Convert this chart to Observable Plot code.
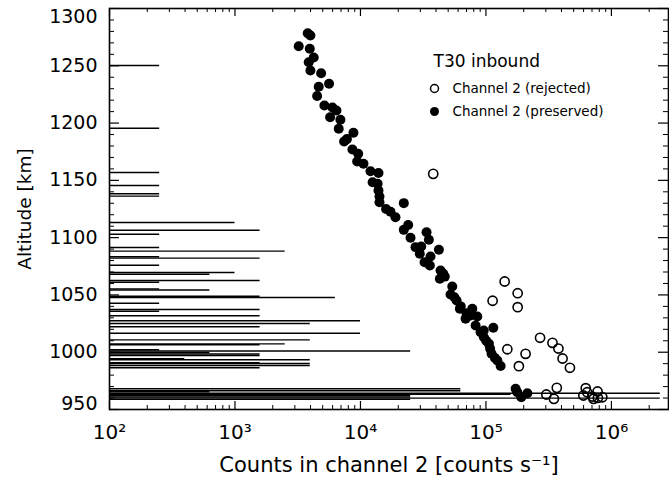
<!DOCTYPE html>
<html><head><meta charset="utf-8">
<script src="https://cdn.jsdelivr.net/npm/d3@7"></script>
<script src="https://cdn.jsdelivr.net/npm/@observablehq/plot@0.6"></script>
<style>
body{margin:0;background:#fff}
#chart{width:669px;height:477px}
svg text{font-family:"DejaVu Sans",sans-serif}
</style></head><body><div id="chart"></div>
<script>
// Horizontal bars: altitude (km) and count level reached (counts/s)
const lineAltitudes = [1250.2,1195.5,1156.9,1145.5,1138.3,1136.2,1113.2,1106.5,1103.0,1091.4,1088.2,1083.3,1082.1,1075.9,1069.6,1068.1,1062.6,1061.1,1055.3,1054.3,1048.9,1047.8,1042.8,1037.3,1035.8,1031.8,1027.4,1025.1,1022.2,1016.6,1010.8,1007.3,1006.5,1002.1,1001.1,999.8,998.4,997.1,994.3,993.4,990.8,990.2,988.4,986.4,968.1,966.3,965.5,964.2,963.3,962.2,960.9,959.9,958.8];
const lineCounts = [251,251,251,251,251,251,1000,1585,251,251,2512,251,1585,251,1000,631,1585,251,251,631,1585,6310,251,1585,251,1585,10000,3981,1585,10000,3981,2512,1585,251,25119,631,1585,1585,398,3981,1585,3981,3981,1585,63096,63096,631,2450000,158489,25119,25119,2450000,25119];

// Channel 2 (preserved)
const preservedCounts = [3800,3990,3220,3945,4240,3870,3990,4860,4650,5620,4515,5160,5980,6435,5730,6920,6710,8790,7410,8630,9590,9410,10570,12020,13920,12500,13700,13920,14180,14180,22150,17350,19010,22150,25060,33620,35080,27470,30500,29700,36160,42150,32420,35730,43480,45700,42920,53900,52240,58340,61960,77840,68830,75440,85310,82700,114500,90650,96300,105600,110900,123200,130900,172400,213800,191400,177800,7800,16000,24000,100500,108000,118000,96000,47000,56000,63000,70000];
const preservedAltitudes = [1278.4,1276.4,1267.1,1264.8,1257.2,1253.1,1245.9,1243.5,1231.7,1234.3,1223.6,1215.3,1213.6,1211,1205.1,1202.9,1195,1191.6,1183.9,1176.9,1173.2,1166.5,1164.5,1158,1156.4,1148.4,1147,1141.1,1135.9,1130.9,1130.1,1122.6,1117.8,1106.8,1099.9,1104.7,1098.1,1091.7,1092.3,1085.9,1083.5,1089.4,1078.6,1075.7,1071.3,1068.4,1064.1,1057.4,1050.4,1045.1,1037.9,1037.9,1029.2,1032,1031.2,1023.3,1021.3,1017.5,1013.1,1007.3,998.6,992.8,988,968.1,964.2,960.7,965.1,1186,1125,1111,1010,1003,995,1019,1066,1048,1040,1034];

// Channel 2 (rejected)
const rejectedCounts = [38000,141000,179000,113000,179000,270000,339000,378000,148000,207000,408000,183000,467000,367000,303000,348000,624000,598000,640000,707000,775000,780000,847000,720000];
const rejectedAltitudes = [1155.7,1061.7,1051.5,1044.9,1039.3,1012.6,1008.2,1003.2,1002.6,998.6,994.5,987.8,986.4,968.9,963.1,959.3,968.6,962.2,965.1,961.3,965.7,960.2,960.7,959.3];

const xTickValues = [1e2,1e3,1e4,1e5,1e6];
const xTickLabels = ["10²","10³","10⁴","10⁵","10⁶"];
const yTickValues = [950,1000,1050,1100,1150,1200,1250,1300];
const xDomain = [100, 2.85e6];
const yDomain = [950, 1300];
const legendTitle = "T30 inbound";
const seriesNames = ["Channel 2 (rejected)", "Channel 2 (preserved)"];
const xLabel = "Counts in channel 2 [counts s⁻¹]";
const yLabel = "Altitude [km]";

const lines = lineAltitudes.map((a,i)=>({alt:a, count:lineCounts[i]}));
const preserved = preservedCounts.map((c,i)=>({count:c, alt:preservedAltitudes[i]}));
const rejected = rejectedCounts.map((c,i)=>({count:c, alt:rejectedAltitudes[i]}));

const W = 669, H = 477, mL = 109, mR = 1, mT = 8, mB = 68;
const fw = W - mL - mR, fh = H - mT - mB;

const xMinor = [];
for (let k = 2; k <= 6; k++) for (let m = 2; m <= 9; m++) { const v = m * 10 ** k; if (v < xDomain[1]) xMinor.push(v); }
const yMinor = d3.range(960, 1300, 10).filter(v => v % 50 !== 0);

const plot = Plot.plot({
  width: W, height: H,
  marginLeft: mL, marginRight: mR, marginTop: mT, marginBottom: mB,
  x: {type: "log", domain: xDomain},
  y: {domain: yDomain},
  marks: [
    Plot.ruleY(lines, {y: "alt", x1: 100, x2: "count", stroke: "black", strokeWidth: 1.4, clip: true}),
    Plot.dot(rejected, {x: "count", y: "alt", r: 4.6, stroke: "black", strokeWidth: 1.6, fill: "none"}),
    Plot.dot(preserved, {x: "count", y: "alt", r: 5, fill: "black", stroke: "none"}),
    // inward ticks
    Plot.ruleX(xTickValues, {x: d => d, insetTop: fh - 8, stroke: "black", strokeWidth: 1.2}),
    Plot.ruleX(xTickValues, {x: d => d, insetBottom: fh - 8, stroke: "black", strokeWidth: 1.2}),
    Plot.ruleX(xMinor, {x: d => d, insetTop: fh - 4, stroke: "black", strokeWidth: 1}),
    Plot.ruleX(xMinor, {x: d => d, insetBottom: fh - 4, stroke: "black", strokeWidth: 1}),
    Plot.ruleY(yTickValues, {y: d => d, insetRight: fw - 10, stroke: "black", strokeWidth: 1.2}),
    Plot.ruleY(yTickValues, {y: d => d, insetLeft: fw - 10, stroke: "black", strokeWidth: 1.2}),
    Plot.ruleY(yMinor, {y: d => d, insetRight: fw - 5, stroke: "black", strokeWidth: 1}),
    Plot.ruleY(yMinor, {y: d => d, insetLeft: fw - 5, stroke: "black", strokeWidth: 1}),
    Plot.frame({stroke: "black", strokeWidth: 1.6}),
    // tick labels
    Plot.axisX(xTickValues, {tickSize: 0, tickPadding: 15, tickFormat: d => xTickLabels[xTickValues.indexOf(d)], fontSize: 20, label: null, fill: "black"}),
    Plot.axisY(yTickValues.slice(1, -1), {tickSize: 0, tickPadding: 12, tickFormat: d => String(d), fontSize: 19, label: null, fill: "black"}),
    Plot.axisY(yTickValues.slice(-1), {tickSize: 0, tickPadding: 12, tickFormat: d => String(d), fontSize: 19, label: null, fill: "black", dy: 8}),
    Plot.axisY(yTickValues.slice(0, 1), {tickSize: 0, tickPadding: 12, tickFormat: d => String(d), fontSize: 19, label: null, fill: "black", dy: -6}),
    // axis titles
    Plot.text([xLabel], {text: d => d, frameAnchor: "bottom", dy: 56, lineAnchor: "middle", fontSize: 21, fill: "black"}),
    Plot.text([yLabel], {text: d => d, frameAnchor: "left", dx: -84, rotate: -90, lineAnchor: "middle", textAnchor: "middle", fontSize: 18.5, fill: "black"}),
    // legend
    Plot.text([legendTitle], {text: d => d, frameAnchor: "top-left", dx: 324, dy: 53, textAnchor: "start", lineAnchor: "middle", fontSize: 17, fill: "black"}),
    Plot.dot([seriesNames[0]], {frameAnchor: "top-left", dx: 325, dy: 80, r: 4, stroke: "black", strokeWidth: 1.5, fill: "none"}),
    Plot.dot([seriesNames[1]], {frameAnchor: "top-left", dx: 325, dy: 103, r: 4.5, fill: "black"}),
    Plot.text([seriesNames[0]], {text: d => d, frameAnchor: "top-left", dx: 343, dy: 80, textAnchor: "start", lineAnchor: "middle", fontSize: 13.5, fill: "black"}),
    Plot.text([seriesNames[1]], {text: d => d, frameAnchor: "top-left", dx: 343, dy: 103, textAnchor: "start", lineAnchor: "middle", fontSize: 13.5, fill: "black"})
  ]
});
document.getElementById("chart").appendChild(plot);
</script></body></html>
